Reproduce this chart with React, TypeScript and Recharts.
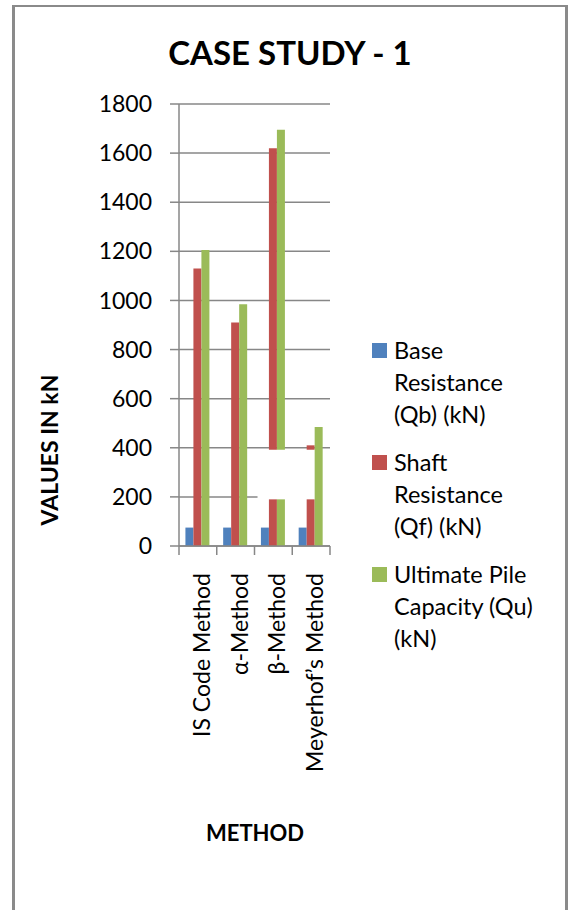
import React from 'react'
import { BarChart, Bar, XAxis, YAxis, CartesianGrid } from 'recharts'

const CATEGORIES = ['IS Code Method', 'α-Method', 'β-Method', 'Meyerhof’s Method']
const BASE = [75, 75, 75, 75]
const SHAFT = [1130, 910, 1620, 410]
const ULTIMATE = [1205, 985, 1695, 485]

// white break visible in the source picture (from / to, in kN)
const SHAFT_GAP_FROM = [null, null, 190, 190]
const SHAFT_GAP_TO = [null, null, 392, 392]
const ULT_GAP_FROM = [null, null, 190, null]
const ULT_GAP_TO = [null, null, 392, null]

const Y_TICKS = [0, 200, 400, 600, 800, 1000, 1200, 1400, 1600, 1800]
const CUT_GRID_VALUES = [200] // gridline that stops short in the source
const FULL_GRID_VALUES = Y_TICKS.filter((v) => !CUT_GRID_VALUES.includes(v))

const LEGEND = [
  { color: '#4F81BD', lines: ['Base', 'Resistance', '(Qb) (kN)'] },
  { color: '#C0504D', lines: ['Shaft', 'Resistance', '(Qf) (kN)'] },
  { color: '#9BBB59', lines: ['Ultimate Pile', 'Capacity (Qu)', '(kN)'] },
]

const FONT = 'Lato, "Open Sans", sans-serif'
const GRID = '#878787'

function split(value: number, from: number | null, to: number | null) {
  if (from == null || to == null) return { low: value, gap: 0, high: 0 }
  return { low: from, gap: to - from, high: value - to }
}

const data = CATEGORIES.map((name, i) => {
  const s = split(SHAFT[i], SHAFT_GAP_FROM[i], SHAFT_GAP_TO[i])
  const u = split(ULTIMATE[i], ULT_GAP_FROM[i], ULT_GAP_TO[i])
  return {
    name,
    base: BASE[i],
    shaftLow: s.low,
    shaftGap: s.gap,
    shaftHigh: s.high,
    ultLow: u.low,
    ultGap: u.gap,
    ultHigh: u.high,
  }
})

const CategoryTick = (props: any) => {
  const { x, y, payload, index, visibleTicksCount } = props
  const half = payload.offset ?? 0
  const tx = x + 3
  const ty = y + 27
  const isLast = index === (visibleTicksCount ?? CATEGORIES.length) - 1
  return (
    <g>
      <line x1={x - half} x2={x - half} y1={y} y2={y + 9} stroke={GRID} strokeWidth={1.5} />
      {isLast && (
        <line x1={x + half} x2={x + half} y1={y} y2={y + 9} stroke={GRID} strokeWidth={1.5} />
      )}
      <text
        x={tx}
        y={ty}
        transform={`rotate(-90, ${tx}, ${ty})`}
        textAnchor="end"
        dominantBaseline="central"
        fontSize={23}
        fontFamily={FONT}
        fill="#000"
      >
        {payload.value}
      </text>
    </g>
  )
}

const CutGridLine = (props: any) => {
  const { x1, x2, y1, y2 } = props
  return (
    <line x1={x1} x2={x1 + (x2 - x1) * 0.52} y1={y1} y2={y2} stroke={GRID} strokeWidth={1.5} />
  )
}

export default function App() {
  return (
    <div
      style={{
        position: 'absolute',
        left: 0,
        top: 0,
        width: 568,
        height: 910,
        background: '#fff',
        overflow: 'hidden',
        fontFamily: FONT,
      }}
    >
      <div
        style={{
          position: 'absolute',
          left: 12,
          top: 5,
          width: 550,
          height: 920,
          borderLeft: '3px solid #8a8a8a',
          borderRight: '3px solid #8a8a8a',
          borderTop: '2px solid #8a8a8a',
        }}
      />

      <div style={{ position: 'absolute', left: 0, top: 0 }}>
        <BarChart
          width={568}
          height={910}
          data={data}
          margin={{ top: 104, right: 238, bottom: 104, left: 0 }}
          barCategoryGap="17%"
          barGap={0}
        >
          <CartesianGrid
            vertical={false}
            horizontalValues={FULL_GRID_VALUES}
            stroke={GRID}
            strokeWidth={1.5}
          />
          <CartesianGrid vertical={false} horizontalValues={CUT_GRID_VALUES} horizontal={CutGridLine} />
          <XAxis
            dataKey="name"
            height={260}
            interval={0}
            tickSize={0}
            tickMargin={0}
            axisLine={{ stroke: GRID, strokeWidth: 1.5 }}
            tickLine={false}
            tick={<CategoryTick />}
          />
          <YAxis
            width={179}
            domain={[0, 1800]}
            ticks={Y_TICKS}
            interval={0}
            tickSize={9}
            tickMargin={18}
            axisLine={{ stroke: GRID, strokeWidth: 1.5 }}
            tickLine={{ stroke: GRID, strokeWidth: 1.5 }}
            tick={{ fill: '#000', fontSize: 23, fontFamily: FONT }}
          />
          <Bar dataKey="base" stackId="b" fill="#4F81BD" isAnimationActive={false} />
          <Bar dataKey="shaftLow" stackId="s" fill="#C0504D" isAnimationActive={false} />
          <Bar dataKey="shaftGap" stackId="s" fill="#fff" fillOpacity={0} isAnimationActive={false} />
          <Bar dataKey="shaftHigh" stackId="s" fill="#C0504D" isAnimationActive={false} />
          <Bar dataKey="ultLow" stackId="u" fill="#9BBB59" isAnimationActive={false} />
          <Bar dataKey="ultGap" stackId="u" fill="#fff" fillOpacity={0} isAnimationActive={false} />
          <Bar dataKey="ultHigh" stackId="u" fill="#9BBB59" isAnimationActive={false} />
        </BarChart>
      </div>

      <div
        style={{
          position: 'absolute',
          left: 290,
          top: 52,
          transform: 'translate(-50%, -50%)',
          fontSize: 33,
          fontWeight: 700,
          whiteSpace: 'nowrap',
          color: '#000',
        }}
      >
        CASE STUDY - 1
      </div>

      <div
        style={{
          position: 'absolute',
          left: 49,
          top: 450,
          transform: 'translate(-50%, -50%) rotate(-90deg)',
          fontSize: 23,
          fontWeight: 700,
          whiteSpace: 'nowrap',
          color: '#000',
        }}
      >
        VALUES IN kN
      </div>

      <div
        style={{
          position: 'absolute',
          left: 255,
          top: 832,
          transform: 'translate(-50%, -50%)',
          fontSize: 22,
          fontWeight: 700,
          whiteSpace: 'nowrap',
          color: '#000',
        }}
      >
        METHOD
      </div>

      {LEGEND.map((item, i) => (
        <div
          key={i}
          style={{ position: 'absolute', left: 372, top: 334 + i * 112, width: 190 }}
        >
          <span
            style={{
              position: 'absolute',
              left: 0,
              top: 9,
              width: 15,
              height: 15,
              background: item.color,
            }}
          />
          <div
            style={{
              position: 'absolute',
              left: 22,
              top: 0,
              fontSize: 23.5,
              lineHeight: '32px',
              whiteSpace: 'nowrap',
              color: '#000',
            }}
          >
            {item.lines.map((line, j) => (
              <div key={j}>{line}</div>
            ))}
          </div>
        </div>
      ))}
    </div>
  )
}
